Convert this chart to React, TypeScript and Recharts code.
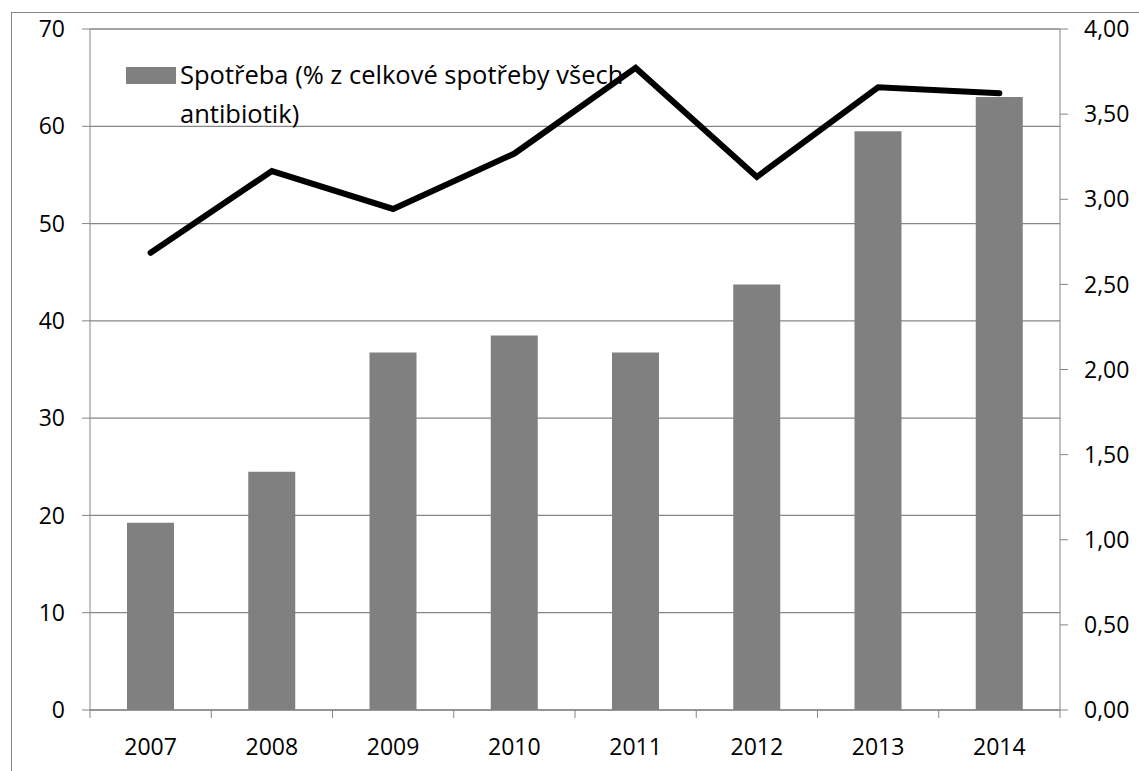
import React from 'react'
import {
  ComposedChart,
  Bar,
  Line,
  XAxis,
  YAxis,
  CartesianGrid,
  Legend,
} from 'recharts'

const years = ['2007', '2008', '2009', '2010', '2011', '2012', '2013', '2014']
const consumption = [1.1, 1.4, 2.1, 2.2, 2.1, 2.5, 3.4, 3.6]
const lineValues = [47, 55.4, 51.5, 57.2, 66, 54.8, 64, 63.4]
const leftTicks = [0, 10, 20, 30, 40, 50, 60, 70]
const rightTicks = [0, 0.5, 1, 1.5, 2, 2.5, 3, 3.5, 4]

const data = years.map((year, i) => ({
  year,
  spotreba: consumption[i],
  trend: lineValues[i],
}))

const W = 1139
const H = 771
const AXIS = '#868686'
const FONT = '"Open Sans", "Noto Sans", sans-serif'
const TICK_FS = 23
const PLOT_W = 970
const BAND = PLOT_W / years.length

function YearTick(props: any) {
  const { x, y, payload, index } = props
  return (
    <g>
      <line x1={x - BAND / 2} y1={y} x2={x - BAND / 2} y2={y + 8} stroke={AXIS} />
      {index === years.length - 1 && (
        <line x1={x + BAND / 2} y1={y} x2={x + BAND / 2} y2={y + 8} stroke={AXIS} />
      )}
      <text x={x} y={y + 45} textAnchor="middle" fontSize={TICK_FS} fill="#000" fontFamily={FONT}>
        {payload.value}
      </text>
    </g>
  )
}

function LegendBox() {
  return (
    <div style={{ position: 'relative', fontFamily: FONT, fontSize: 25.5, color: '#000' }}>
      <div
        style={{
          position: 'absolute',
          left: 126,
          top: 67,
          width: 50,
          height: 17,
          background: '#808080',
        }}
      />
      <div style={{ position: 'absolute', left: 180, top: 55, lineHeight: '39px', whiteSpace: 'nowrap' }}>
        Spotřeba (% z celkové spotřeby všech
        <br />
        antibiotik)
      </div>
    </div>
  )
}

const fmt = (v: number) => v.toFixed(2).replace('.', ',')

export default function App() {
  return (
    <div
      style={{
        position: 'absolute',
        left: 0,
        top: 0,
        width: W,
        height: H,
        overflow: 'hidden',
        background: '#fff',
      }}
    >
      <div
        style={{
          position: 'absolute',
          left: 11,
          top: 12,
          width: W + 50,
          height: H + 50,
          borderLeft: `1px solid ${AXIS}`,
          borderTop: `1px solid ${AXIS}`,
        }}
      />
      <ComposedChart
        width={W}
        height={H}
        data={data}
        margin={{ top: 29, right: 0, left: 0, bottom: 0 }}
        style={{ position: 'absolute', left: 0, top: 0 }}
      >
        <CartesianGrid yAxisId="left" vertical={false} stroke={AXIS} strokeWidth={1.3} />
        <XAxis
          dataKey="year"
          height={61}
          stroke={AXIS}
          tickLine={false}
          tickSize={0}
          tickMargin={0}
          tick={<YearTick />}
          interval={0}
        />
        <YAxis
          yAxisId="left"
          orientation="left"
          width={90}
          domain={[0, 70]}
          ticks={leftTicks}
          stroke={AXIS}
          tickSize={8}
          tickMargin={17}
          tick={{ fontSize: TICK_FS, fill: '#000', fontFamily: FONT }}
        />
        <YAxis
          yAxisId="right"
          orientation="right"
          width={79}
          domain={[0, 4]}
          ticks={rightTicks}
          stroke={AXIS}
          tickSize={8}
          tickMargin={16}
          tickFormatter={fmt}
          tick={{ fontSize: TICK_FS, fill: '#000', fontFamily: FONT }}
        />
        <Legend
          layout="vertical"
          verticalAlign="top"
          align="left"
          wrapperStyle={{ left: 0, top: 0, width: 1, height: 1 }}
          content={<LegendBox />}
        />
        <Bar
          yAxisId="right"
          dataKey="spotreba"
          name="Spotřeba (% z celkové spotřeby všech antibiotik)"
          fill="#808080"
          barSize={47}
          isAnimationActive={false}
        />
        <Line
          yAxisId="left"
          dataKey="trend"
          type="linear"
          stroke="#000"
          strokeWidth={6}
          strokeLinecap="round"
          dot={false}
          activeDot={false}
          legendType="none"
          isAnimationActive={false}
        />
      </ComposedChart>
    </div>
  )
}
